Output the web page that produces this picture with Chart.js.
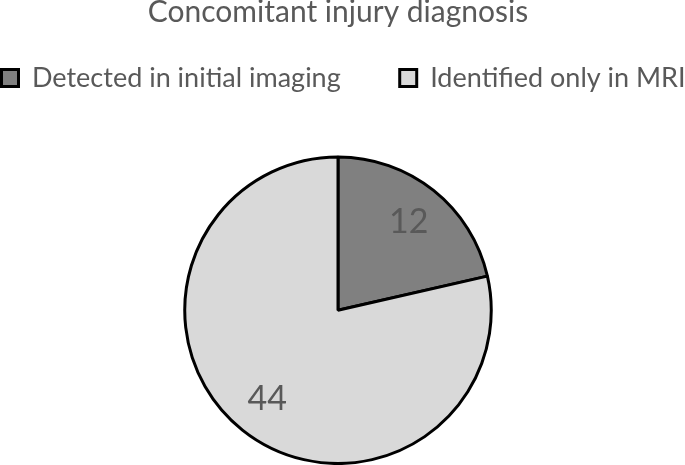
<!DOCTYPE html>
<html>
<head>
<meta charset="utf-8">
<script src="https://cdn.jsdelivr.net/npm/chart.js@4/dist/chart.umd.min.js"></script>
<style>
  html, body { margin: 0; padding: 0; background: #fff; }
  #wrap { width: 685px; height: 465px; }
</style>
</head>
<body>
<div id="wrap"><canvas id="pie"></canvas></div>
<script>
// data
const categories = ["Detected in initial imaging", "Identified only in MRI"];
const counts = [12, 44];
const sliceColors = ["#808080", "#d9d9d9"];

const FONT = "Lato, 'Open Sans', sans-serif";
const LEGEND_PAD = 59;

// keep the legend on one wide row, leave room under it, and lift it a bit
const legendTweak = {
  id: "legendTweak",
  beforeInit(chart) {
    const legend = chart.legend;
    const fit = legend.fit;
    legend.fit = function () {
      const mw = this.maxWidth;
      this.maxWidth = 2000;
      fit.call(this);
      this.maxWidth = mw;
      this.height = 130;
    };
    const draw = legend.draw;
    legend.draw = function () {
      const right = this.right;
      const widths = this.lineWidths;
      this.right = 2000;
      this.lineWidths = [this.left + LEGEND_PAD + 2000 - 3];
      chart.ctx.save();
      chart.ctx.translate(0, -20);
      draw.call(this);
      chart.ctx.restore();
      this.right = right;
      this.lineWidths = widths;
    };
  }
};

// draws the count inside each slice
const sliceLabels = {
  id: "sliceLabels",
  afterDatasetsDraw(chart) {
    const ctx = chart.ctx;
    const meta = chart.getDatasetMeta(0);
    ctx.save();
    ctx.fillStyle = "#595959";
    ctx.font = "34px " + FONT;
    ctx.textAlign = "center";
    ctx.textBaseline = "middle";
    meta.data.forEach((arc, i) => {
      const p = arc.getProps(["x", "y", "startAngle", "endAngle", "outerRadius"], true);
      const mid = (p.startAngle + p.endAngle) / 2;
      const r = p.outerRadius * 0.74;
      ctx.fillText(String(counts[i]), p.x + Math.cos(mid) * r, p.y + Math.sin(mid) * r);
    });
    ctx.restore();
  }
};

new Chart(document.getElementById("pie"), {
  type: "pie",
  data: {
    labels: categories,
    datasets: [{
      data: counts,
      backgroundColor: sliceColors,
      borderColor: "#000000",
      borderWidth: 3
    }]
  },
  options: {
    responsive: true,
    maintainAspectRatio: false,
    animation: false,
    layout: { padding: { top: 0, bottom: 0, right: 9, left: 0 } },
    plugins: {
      title: {
        display: true,
        text: "Concomitant injury diagnosis",
        color: "#595959",
        font: { family: FONT, size: 30, weight: "normal", lineHeight: 0.85 },
        padding: { top: 0, bottom: 0 }
      },
      legend: {
        position: "top",
        labels: {
          color: "#595959",
          font: { family: FONT, size: 27 },
          boxWidth: 17,
          boxHeight: 17,
          padding: LEGEND_PAD
        }
      },
      tooltip: { enabled: false }
    }
  },
  plugins: [legendTweak, sliceLabels]
});
</script>
</body>
</html>
